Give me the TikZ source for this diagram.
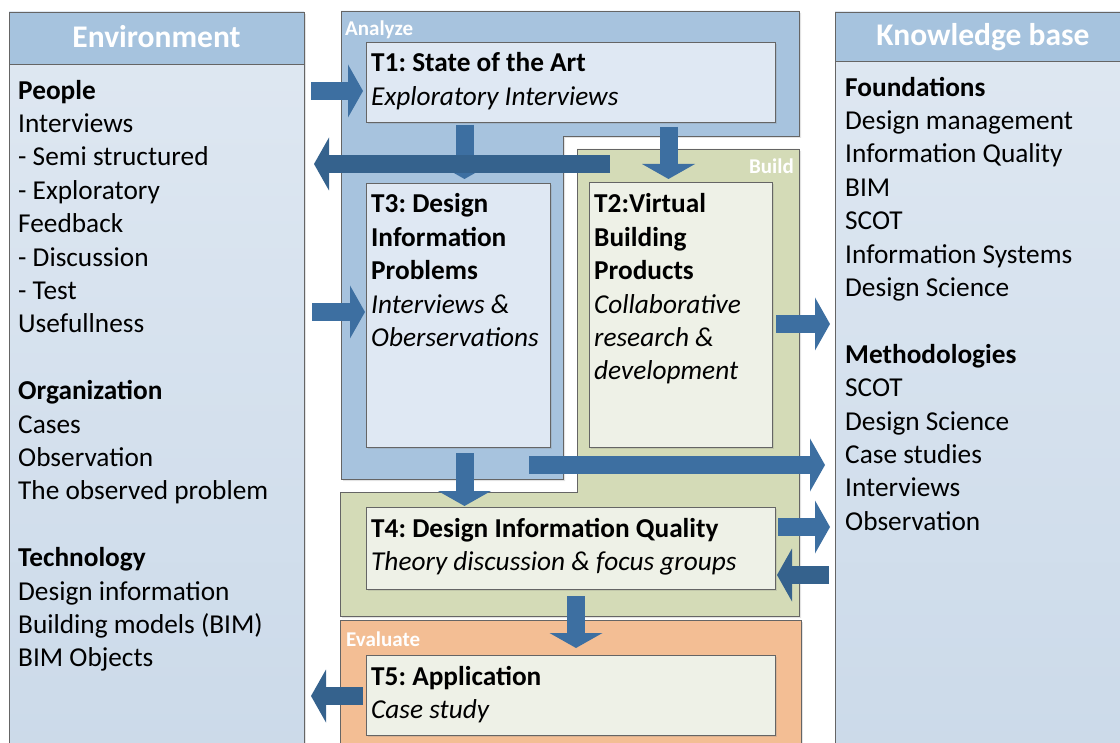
\documentclass[tikz,border=0pt]{standalone}
\usepackage{fontspec}
\setmainfont{Carlito}
\frenchspacing
\usetikzlibrary{calc,arrows.meta,shadows}
\definecolor{hdrblue}{HTML}{A6C3DE}
\definecolor{bodyblue}{HTML}{DFE8F2}
\definecolor{bodyblue2}{HTML}{C2D3E5}
\definecolor{anblue}{HTML}{A7C3DE}
\definecolor{tblue}{HTML}{DFE8F3}
\definecolor{bgreen}{HTML}{D4DBB7}
\definecolor{tgreen}{HTML}{EEF1E7}
\definecolor{evorange}{HTML}{F3BE94}
\definecolor{edgegray}{HTML}{656565}
\definecolor{arrblue}{HTML}{3D6FA1}
\definecolor{arrdark}{HTML}{35628D}
\tikzset{
  softshadow/.style={drop shadow={opacity=0.22,shadow xshift=2pt,shadow yshift=-2pt}},
  panel/.style={draw=edgegray, line width=0.8pt},
  panelnode/.style={panel, anchor=north west, inner sep=0pt, outer sep=0pt},
  tbox/.style={draw=edgegray, line width=0.8pt, anchor=north west, inner sep=0pt, outer sep=0pt, softshadow},
  bodytext/.style={font=\fontsize{27.3}{33.4}\selectfont, align=left, anchor=base west, inner sep=0pt},
  headtxt/.style={font=\fontsize{31.5}{36}\selectfont\bfseries, text=white, inner sep=0pt, anchor=base},
  phaselabel/.style={font=\fontsize{21}{25}\selectfont\bfseries, text=white, inner sep=0pt},
  barrow/.style={line width=18pt, draw=arrblue, -{Triangle[width=53pt,length=15pt,line width=0pt]}},
  barrowl/.style={barrow, draw=arrdark},
}
\begin{document}
\begin{tikzpicture}[x=1pt,y=-1pt]
\useasboundingbox (0,0) rectangle (1120,743);
\clip (0,0) rectangle (1120,743);

% Environment panel
\node[panelnode, top color=bodyblue, middle color=bodyblue, bottom color=bodyblue2, minimum width=295, minimum height=1100, softshadow] (env) at (9,12) {};
\node[panelnode, fill=hdrblue, minimum width=295, minimum height=52] (envhead) at (9,12) {};
\node[headtxt] (envtitle) at (156.5,48) {Environment};
% text block: base anchor = baseline of last line
\node[bodytext] (envtxt) at (18,666.8) {\textbf{People}\\Interviews\\- Semi structured\\- Exploratory\\Feedback\\- Discussion\\- Test\\Usefullness\\[33.4pt]\textbf{Organization}\\Cases\\Observation\\The observed problem\\[33.4pt]\textbf{Technology}\\Design information\\Building models (BIM)\\BIM Objects};

% Knowledge base panel
\node[panelnode, top color=bodyblue, middle color=bodyblue, bottom color=bodyblue2, minimum width=300, minimum height=1100, softshadow] (kb) at (835,12) {};
\node[panelnode, fill=hdrblue, minimum width=300, minimum height=49] (kbhead) at (835,12) {};
\node[headtxt] (kbtitle) at (983,46) {Knowledge base};
\node[bodytext] (kbtxt) at (845,530.2) {\textbf{Foundations}\\Design management\\Information Quality\\BIM\\SCOT\\Information Systems\\Design Science\\[33.4pt]\textbf{Methodologies}\\SCOT\\Design Science\\Case studies\\Interviews\\Observation};

% Phase areas
\draw[panel, fill=anblue, softshadow] (341,11) -- (799,11) -- (799,136) -- (563,136) -- (563,479) -- (341,479) -- cycle;
\draw[panel, fill=bgreen, softshadow] (577,149) -- (799,149) -- (799,616) -- (340,616) -- (340,492) -- (577,492) -- cycle;
\draw[panel, fill=evorange, softshadow] (340,620) rectangle (801,760);
\node[phaselabel, anchor=base west] (lanalyze) at (345,36) {Analyze};
\node[phaselabel, anchor=base east] (lbuild) at (794,174) {Build};
\node[phaselabel, anchor=base west] (levaluate) at (346,646) {Evaluate};

% Task boxes
\node[tbox, fill=tblue, minimum width=409, minimum height=80] (T1) at (366,42) {};
\node[tbox, fill=tblue, minimum width=184, minimum height=264] (T3) at (366,183) {};
\node[tbox, fill=tgreen, minimum width=183, minimum height=265] (T2) at (589,182) {};
\node[tbox, fill=tgreen, minimum width=409, minimum height=82] (T4) at (366,507) {};
\node[tbox, fill=tgreen, minimum width=409, minimum height=80] (T5) at (366,655) {};

\node[bodytext] (T1txt) at (371,105.4) {\textbf{T1: State of the Art}\\\textit{Exploratory Interviews}};
\node[bodytext] (T3txt) at (371,346.6) {\textbf{T3: Design}\\\textbf{Information}\\\textbf{Problems}\\\textit{Interviews \&}\\\textit{Oberservations}};
\node[bodytext] (T2txt) at (594,380) {\textbf{T2:Virtual}\\\textbf{Building}\\\textbf{Products}\\\textit{Collaborative}\\\textit{research \&}\\\textit{development}};
\node[bodytext] (T4txt) at (371,570.4) {\textbf{T4: Design Information Quality}\\\textit{Theory discussion \& focus groups}};
\node[bodytext] (T5txt) at (371,718.4) {\textbf{T5: Application}\\\textit{Case study}};

% Block arrows
\draw[barrow] ($(T1.west)+(-55,9)$) -- ($(T1.west)+(-3,9)$);
\draw[barrow] ($(T1.south west)+(98.5,3)$) -- ($(T3.north)+(6.5,-4)$);
\draw[barrowl] ($(T2.north west)+(21,-18)$) -- ($(T3.north west)+(-52,-19)$);
\draw[barrow] ($(T1.south west)+(302.5,5)$) -- ($(T2.north west)+(79.5,-3)$);
\draw[barrow] ($(T3.west)+(-54,-3)$) -- ($(T3.west)+(-1,-3)$);
\draw[barrow] ($(T2.east)+(4,9.5)$) -- ($(T2.east)+(58,9.5)$);
\draw[barrow] ($(T3.south east)+(-21,18)$) -- ($(T2.south east)+(53,18)$);
\draw[barrow] ($(T3.south)+(6.5,6)$) -- ($(T4.north west)+(98.5,-1)$);
\draw[barrow] ($(T4.east)+(3,-21)$) -- ($(T4.east)+(55,-21)$);
\draw[barrowl] ($(T4.east)+(54,27)$) -- ($(T4.east)+(2,27)$);
\draw[barrow] ($(T4.south west)+(210,7)$) -- ($(T5.north west)+(210,-7)$);
\draw[barrowl] ($(T5.west)+(-3,1)$) -- ($(T5.west)+(-55,1)$);
\end{tikzpicture}
\end{document}
